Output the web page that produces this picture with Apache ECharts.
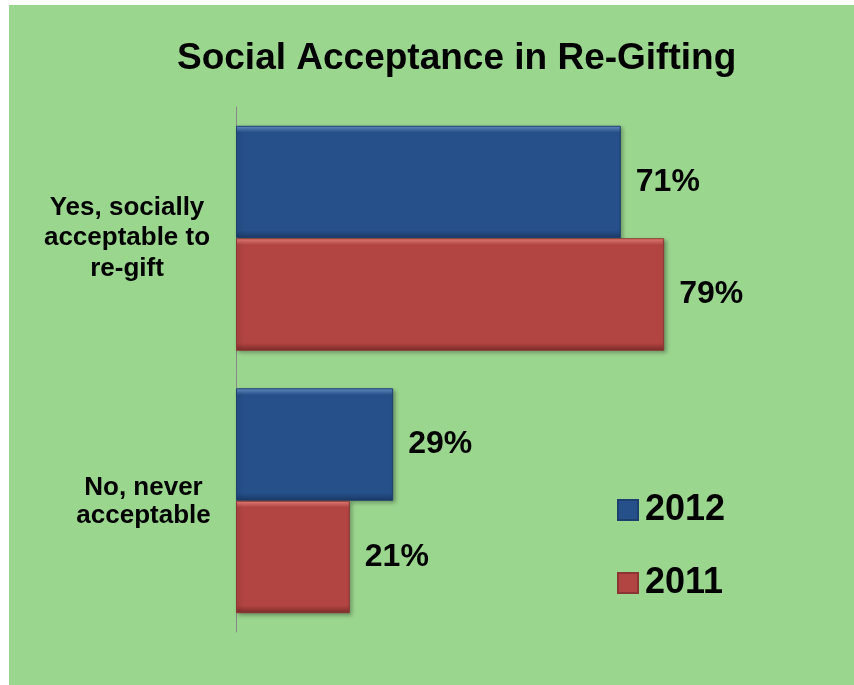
<!DOCTYPE html>
<html>
<head>
<meta charset="utf-8">
<script src="https://cdn.jsdelivr.net/npm/echarts@6/dist/echarts.min.js"></script>
<style>
  html, body { margin: 0; padding: 0; background: #fff; }
  #chart { position: absolute; left: 9px; top: 5px; width: 845px; height: 680px; }
</style>
</head>
<body>
<div id="chart"></div>
<script>
var categories = ['Yes, socially\nacceptable to\nre-gift', 'No, never\nacceptable'];
var seriesNames = ['2012', '2011'];
var values2012 = [71, 29];
var values2011 = [79, 21];

var chart = echarts.init(document.getElementById('chart'));

// bevel look: light top strip, flat body, dark bottom strip
function bevel(light, main, dark) {
  return new echarts.graphic.LinearGradient(0, 0, 0, 1, [
    { offset: 0, color: light },
    { offset: 0.06, color: main },
    { offset: 0.93, color: main },
    { offset: 1, color: dark }
  ]);
}
var blue = bevel('#6a96d0', '#26508a', '#1a3a66');
var red = bevel('#f2857f', '#b24542', '#7c2c2a');

var font = 'Arial, "Liberation Sans", sans-serif';
var labelWidths = [170, 137];

var barLabel = {
  show: true,
  position: 'right',
  distance: 15,
  formatter: '{c}%',
  color: '#000',
  fontSize: 32,
  fontWeight: 'bold',
  fontFamily: font
};

var option = {
  backgroundColor: '#9bd68f',
  title: {
    text: 'Social Acceptance in Re-Gifting',
    left: 163,
    top: 30,
    textStyle: { color: '#000', fontSize: 37, fontWeight: 'bold', fontFamily: font }
  },
  legend: {
    orient: 'vertical',
    left: 603,
    top: 482,
    itemWidth: 20,
    itemHeight: 20,
    itemGap: 37,
    icon: 'rect',
    data: seriesNames,
    textStyle: { color: '#000', fontSize: 36, fontWeight: 'bold', fontFamily: font, padding: [0, 0, 0, 2] }
  },
  grid: { left: 227, right: 76, top: 102, bottom: 53 },
  xAxis: { type: 'value', min: 0, max: 100, show: false },
  yAxis: {
    type: 'category',
    inverse: true,
    data: categories,
    axisLine: { show: true, lineStyle: { color: '#888', width: 1 } },
    axisTick: { show: false },
    axisLabel: {
      margin: 24,
      align: 'right',
      formatter: function (v, i) {
        var k = categories.indexOf(v);
        return v.split('\n').map(function (s) { return '{c' + k + '|' + s + '}'; }).join('\n');
      },
      rich: {
        c0: { width: labelWidths[0], align: 'center', color: '#000', fontSize: 26, fontWeight: 'bold', fontFamily: font, lineHeight: 30.5 },
        c1: { width: labelWidths[1], align: 'center', color: '#000', fontSize: 26, fontWeight: 'bold', fontFamily: font, lineHeight: 28, padding: [3, 0, 0, 0] }
      }
    }
  },
  series: [
    {
      name: seriesNames[0],
      type: 'bar',
      data: values2012,
      barGap: '0%',
      barCategoryGap: '14.3%',
      label: barLabel,
      itemStyle: { color: blue, borderColor: '#1d3f6e', borderWidth: 1, shadowColor: 'rgba(0,0,0,0.3)', shadowBlur: 4, shadowOffsetX: 2, shadowOffsetY: 2 }
    },
    {
      name: seriesNames[1],
      type: 'bar',
      data: values2011,
      barGap: '0%',
      barCategoryGap: '14.3%',
      label: barLabel,
      itemStyle: { color: red, borderColor: '#8a3533', borderWidth: 1, shadowColor: 'rgba(0,0,0,0.3)', shadowBlur: 4, shadowOffsetX: 2, shadowOffsetY: 2 }
    }
  ]
};
chart.setOption(option);
</script>
</body>
</html>
